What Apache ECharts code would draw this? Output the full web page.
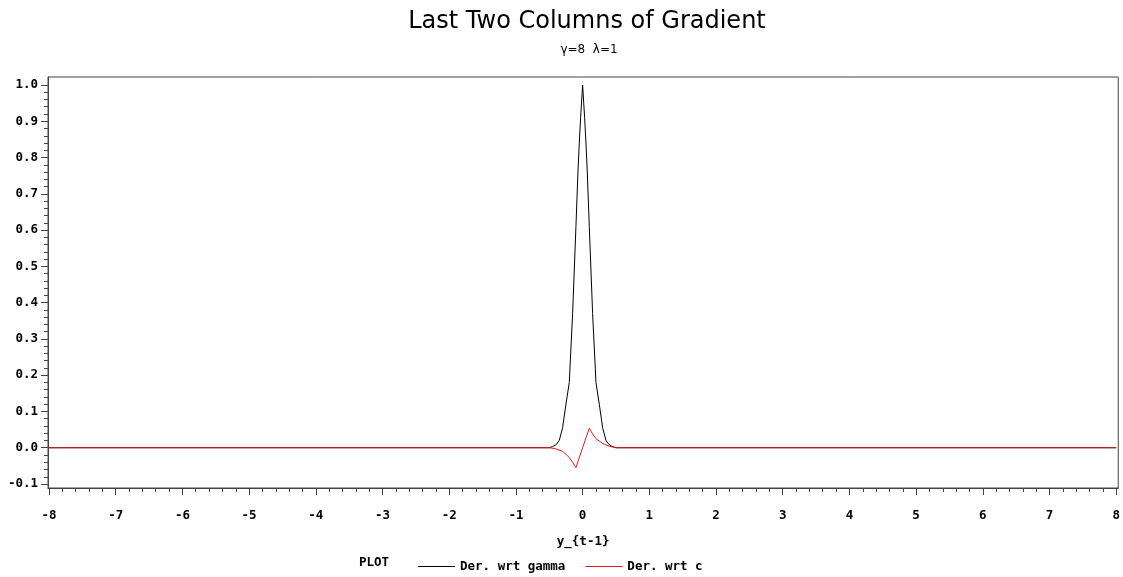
<!DOCTYPE html>
<html>
<head>
<meta charset="utf-8">
<script src="https://cdn.jsdelivr.net/npm/echarts@6/dist/echarts.min.js"></script>
<style>html,body{margin:0;padding:0;background:#fff}#c{width:1123px;height:577px}</style>
</head>
<body>
<div id="c"></div>
<script>
var gammaX = [-8, -0.5, -0.45, -0.4, -0.35, -0.3, -0.25, -0.2, -0.15, -0.1, -0.07, -0.05, -0.03, 0, 0.03, 0.05, 0.07, 0.1, 0.15, 0.2, 0.25, 0.3, 0.35, 0.4, 0.45, 0.5, 8];
var gammaY = [0, 0, 0.003, 0.008, 0.02, 0.055, 0.12, 0.18, 0.37, 0.61, 0.76, 0.84, 0.91, 1.0, 0.91, 0.84, 0.76, 0.61, 0.37, 0.18, 0.12, 0.055, 0.02, 0.008, 0.003, 0, 0];
var cX = [-8, -0.5, -0.4, -0.3, -0.25, -0.2, -0.15, -0.1, 0, 0.1, 0.15, 0.2, 0.3, 0.35, 0.4, 0.5, 8];
var cY = [0, 0, -0.003, -0.01, -0.018, -0.027, -0.04, -0.055, 0, 0.054, 0.038, 0.025, 0.012, 0.008, 0.004, 0, 0];
var xMajor = [-8, -7, -6, -5, -4, -3, -2, -1, 0, 1, 2, 3, 4, 5, 6, 7, 8];
var yMajor = [-0.1, 0.0, 0.1, 0.2, 0.3, 0.4, 0.5, 0.6, 0.7, 0.8, 0.9, 1.0];
var titleText = 'Last Two Columns of Gradient';
var subText = 'γ=8  λ=1';
var xName = 'y_{t-1}';
var seriesNames = ['Der. wrt gamma', 'Der. wrt c'];

var xMinor = [];
for (var i = -40; i <= 40; i++) { if (i % 5 !== 0) xMinor.push(i / 5); }
var yMinor = [];
for (var j = -5; j <= 50; j++) { if (j % 5 !== 0) yMinor.push(j / 50); }

function zip(a, b) { return a.map(function (v, k) { return [v, b[k]]; }); }

var FONT = 'DejaVu Sans Mono';
var FS = 12.5;
var AX = '#444';
var chart = echarts.init(document.getElementById('c'));
chart.setOption({
  animation: false,
  title: [
    { text: titleText, left: 582, top: 5, textAlign: 'center',
      textStyle: { fontFamily: 'DejaVu Sans', fontWeight: 'normal', fontSize: 24, color: '#000' } },
    { text: subText, left: 584, top: 39, textAlign: 'center',
      textStyle: { fontFamily: 'DejaVu Sans', fontWeight: 'normal', fontSize: 12, color: '#000' } }
  ],
  grid: { left: 48, right: 4, top: 77, bottom: 89, show: true, borderColor: AX, borderWidth: 1, backgroundColor: 'transparent' },
  legend: {
    left: 413, top: 555, itemWidth: 37, itemHeight: 1, itemGap: 20, icon: 'rect',
    textStyle: { fontFamily: FONT, fontWeight: 'bold', fontSize: FS, color: '#000' },
    data: seriesNames
  },
  graphic: [{ type: 'text', left: 359, top: 556,
    style: { text: 'PLOT', fontFamily: FONT, fontWeight: 'bold', fontSize: FS, fill: '#000' } }],
  xAxis: [
    { type: 'value', min: -8.015, max: 8.03, position: 'bottom',
      name: xName, nameLocation: 'middle', nameGap: 47,
      nameTextStyle: { fontFamily: FONT, fontWeight: 'bold', fontSize: FS, color: '#000' },
      axisLine: { show: true, onZero: false, lineStyle: { color: AX } },
      axisTick: { show: true, inside: false, length: 7, customValues: xMajor, lineStyle: { color: AX } },
      axisLabel: { customValues: xMajor, margin: 21, fontFamily: FONT, fontWeight: 'bold', fontSize: FS, color: '#000',
        formatter: function (v) { return String(Math.round(v)); } },
      splitLine: { show: false } },
    { type: 'value', min: -8.015, max: 8.03, position: 'bottom', offset: 0,
      axisLine: { show: false, onZero: false },
      axisTick: { show: true, inside: false, length: 4, customValues: xMinor, lineStyle: { color: AX } },
      axisLabel: { show: false }, splitLine: { show: false } }
  ],
  yAxis: [
    { type: 'value', min: -0.111, max: 1.022, position: 'left',
      axisLine: { show: true, onZero: false, lineStyle: { color: AX } },
      axisTick: { show: true, inside: false, length: 7, customValues: yMajor, lineStyle: { color: AX } },
      axisLabel: { customValues: yMajor, margin: 10, fontFamily: FONT, fontWeight: 'bold', fontSize: FS, color: '#000',
        formatter: function (v) { return (Math.round(v * 10) / 10).toFixed(1); } },
      splitLine: { show: false } },
    { type: 'value', min: -0.111, max: 1.022, position: 'left', offset: 0,
      axisLine: { show: false, onZero: false },
      axisTick: { show: true, inside: false, length: 4, customValues: yMinor, lineStyle: { color: AX } },
      axisLabel: { show: false }, splitLine: { show: false } }
  ],
  series: [
    { name: seriesNames[0], type: 'line', data: zip(gammaX, gammaY), showSymbol: false, symbol: 'none',
      lineStyle: { color: '#000', width: 1 }, itemStyle: { color: '#000' } },
    { name: seriesNames[1], type: 'line', data: zip(cX, cY), showSymbol: false, symbol: 'none',
      lineStyle: { color: '#e41a1c', width: 1 }, itemStyle: { color: '#e41a1c' } }
  ]
});
</script>
</body>
</html>
